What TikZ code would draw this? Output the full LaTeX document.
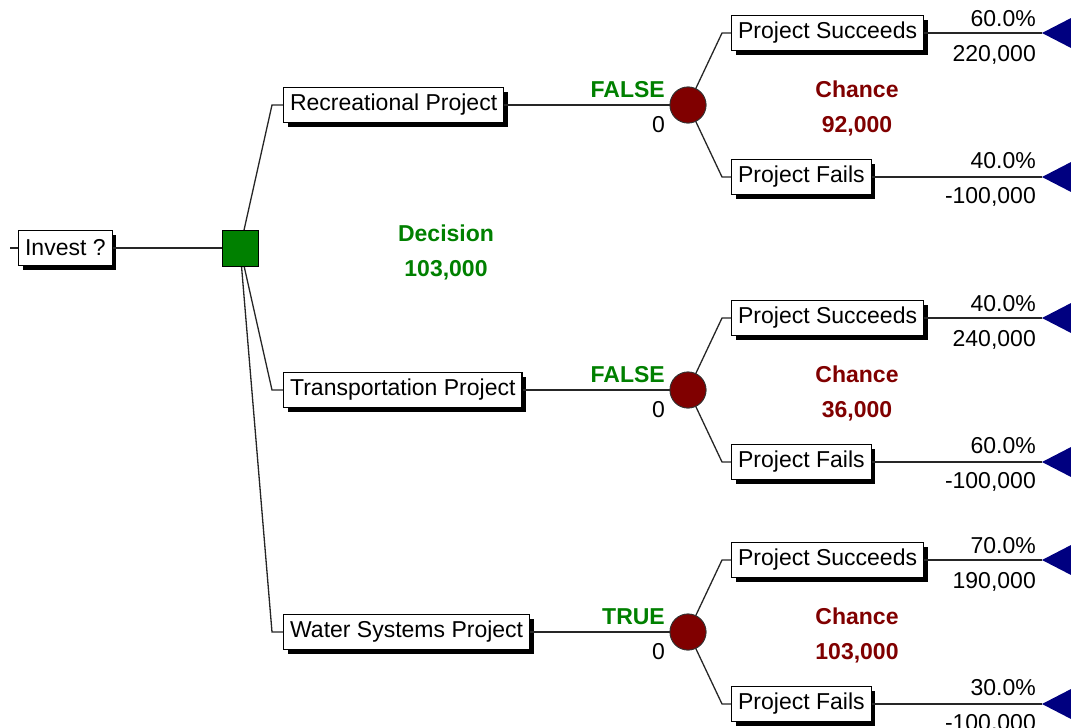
\documentclass[tikz,border=0pt]{standalone}
\usepackage{fontspec}
\setmainfont{Liberation Sans}
\usetikzlibrary{shadows}
\definecolor{decgreen}{HTML}{008000}
\definecolor{chred}{HTML}{800000}
\definecolor{termblue}{HTML}{000080}
\newcommand{\treefont}{\fontsize{23}{27}\selectfont}
\begin{document}
\begin{tikzpicture}[x=1pt,y=-1pt,
  branchbox/.style={draw, fill=white, line width=1.2pt, inner xsep=6.5pt, inner ysep=0pt,
    minimum height=35pt, anchor=west, font=\treefont,
    drop shadow={shadow xshift=4pt, shadow yshift=-4pt, opacity=1, fill=black}},
  decnode/.style={draw, fill=decgreen, line width=1pt, minimum size=36pt, inner sep=0pt},
  chnode/.style={circle, draw=black!80, fill=chred, line width=0.8pt, minimum size=36pt, inner sep=0pt},
  edge/.style={line width=1.3pt, black!85},
  lbl/.style={font=\treefont, inner sep=0pt},
  declbl/.style={font=\treefont\bfseries, text=decgreen, inner sep=0pt},
  chlbl/.style={font=\treefont\bfseries, text=chred, inner sep=0pt},
  endtri/.style={fill=termblue}]
\useasboundingbox (0,0) rectangle (1071,728);
\clip (0,0) rectangle (1071,728);

% root: decision node
\coordinate (t0) at (10,248);
\node[branchbox] (inv) at (18,248) {Invest ?};
\node[decnode] (sq) at (240,248) {};
\node[declbl, anchor=base] (dname) at (446,241) {Decision};
\node[declbl, anchor=base] (dval) at (446,276) {103,000};

% the three alternatives, each ending in a chance node
\foreach \g/\d/\proj/\flag/\pa/\va/\pb/\vb/\ev in {
    1/0/{Recreational Project}/FALSE/{60.0\%}/{220,000}/{40.0\%}/{-100,000}/{92,000},
    2/285/{Transportation Project}/FALSE/{40.0\%}/{240,000}/{60.0\%}/{-100,000}/{36,000},
    3/527/{Water Systems Project}/TRUE/{70.0\%}/{190,000}/{30.0\%}/{-100,000}/{103,000}}{
  \coordinate (e\g) at (272,105+\d);
  \node[branchbox] (p\g) at (283,105+\d) {\proj};
  \node[chnode] (c\g) at (688,105+\d) {};
  \node[declbl, anchor=base east] (fl\g) at (665,97+\d) {\flag};
  \node[lbl, anchor=base east] (z\g) at (665,132+\d) {0};
  \node[chlbl, anchor=base] (cn\g) at (857,97+\d) {Chance};
  \node[chlbl, anchor=base] (cv\g) at (857,132+\d) {\ev};
  % upper outcome
  \coordinate (u\g) at (722,33+\d);
  \node[branchbox] (s\g) at (731,33+\d) {Project Succeeds};
  \coordinate (ts\g) at (1042,33+\d);
  \node[lbl, anchor=base east] (ps\g) at (1036,26+\d) {\pa};
  \node[lbl, anchor=base east] (vs\g) at (1036,61+\d) {\va};
  % lower outcome
  \coordinate (l\g) at (722,177+\d);
  \node[branchbox] (f\g) at (731,177+\d) {Project Fails};
  \coordinate (tf\g) at (1042,177+\d);
  \node[lbl, anchor=base east] (pf\g) at (1036,168+\d) {\pb};
  \node[lbl, anchor=base east] (vf\g) at (1036,203+\d) {\vb};
  % connectors
  \draw[edge] (sq.center) -- (e\g) -- (p\g.west);
  \draw[edge] (p\g.east) -- (c\g);
  \draw[edge] (c\g.center) -- (u\g) -- (s\g.west);
  \draw[edge] (c\g.center) -- (l\g) -- (f\g.west);
  \draw[edge] (s\g.east) -- (ts\g);
  \draw[edge] (f\g.east) -- (tf\g);
  \fill[endtri] (ts\g) -- ++(31,-16) -- ++(0,32) -- cycle;
  \fill[endtri] (tf\g) -- ++(31,-16) -- ++(0,32) -- cycle;
  % redraw the chance node over its edges
  \node[chnode] at (c\g) {};
}
\draw[edge] (t0) -- (inv.west);
\draw[edge] (inv.east) -- (sq.west);
% redraw the decision node over its edges
\node[decnode] at (sq) {};
\end{tikzpicture}
\end{document}
